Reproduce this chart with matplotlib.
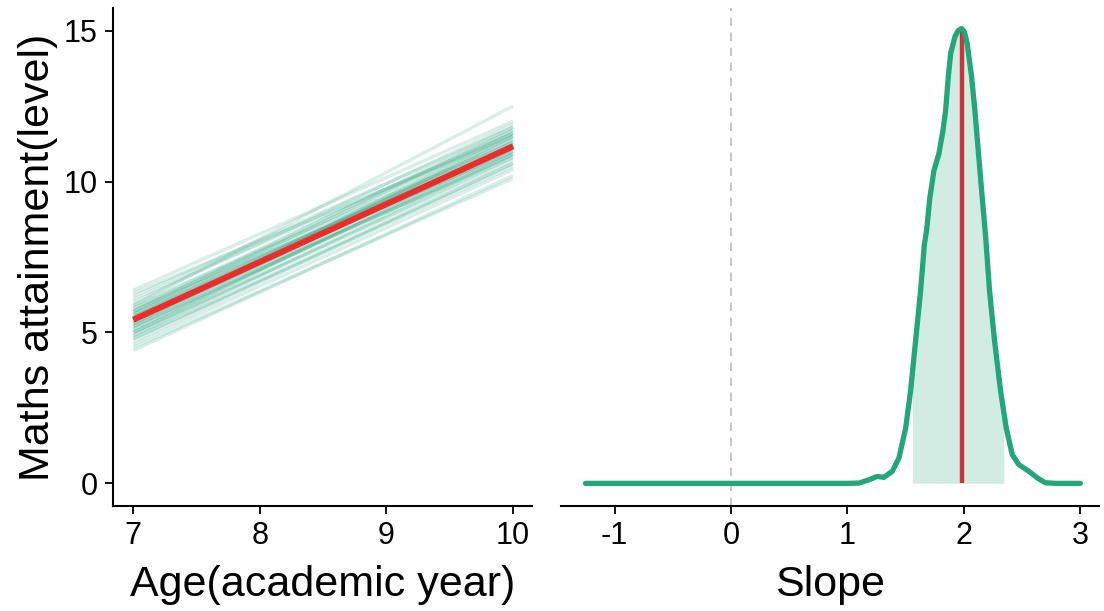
import matplotlib
matplotlib.use("Agg")
import matplotlib.pyplot as plt
import numpy as np

plt.rcParams['font.family'] = ['Liberation Sans', 'DejaVu Sans']

# ---- data: individual growth lines (value at age 7 and at age 10) ----
ages = [7, 10]
line_start = [5.9, 6.4, 6.2, 5.7, 5.5, 5.3, 5.1, 4.9, 4.7, 4.4, 6.0, 5.8, 5.6, 5.4,
              5.2, 5.0, 4.8, 5.5, 5.3, 5.6, 5.1, 4.6, 6.1, 5.7, 5.4, 5.2, 4.9, 5.0,
              5.8, 5.3, 5.5, 4.5, 6.3, 5.9, 5.2, 5.6, 4.8, 5.4, 5.0, 5.7]
line_end = [12.5, 12.0, 11.8, 11.6, 11.4, 11.2, 11.0, 10.8, 10.6, 10.2, 11.9, 11.7,
            11.3, 11.1, 10.9, 10.7, 10.5, 11.5, 11.2, 11.0, 11.3, 10.4, 11.6, 11.8,
            11.4, 10.9, 10.9, 11.1, 11.1, 11.6, 11.0, 10.1, 11.5, 11.3, 11.5, 11.7,
            10.6, 10.8, 11.2, 11.2]
mean_start = 5.42
mean_end = 11.17

# ---- data: slope density (scaled to the attainment axis) ----
slope_x = [-1.25, 1.0, 1.10, 1.185, 1.256, 1.313, 1.385, 1.442, 1.50, 1.542,
           1.585, 1.628, 1.66, 1.68, 1.708, 1.743, 1.785, 1.820, 1.843, 1.866,
           1.886, 1.923, 1.95, 1.98, 2.005, 2.028, 2.066, 2.094, 2.123, 2.152,
           2.186, 2.22, 2.263, 2.315, 2.363, 2.415, 2.472, 2.558, 2.63, 2.70,
           2.787, 3.0]
slope_y = [0.0, 0.0, 0.01, 0.12, 0.23, 0.20, 0.40, 0.84, 1.84, 3.06,
           4.72, 6.38, 7.9, 8.4, 9.48, 10.37, 10.92, 11.69, 12.36, 13.47,
           14.24, 14.8, 15.0, 15.07, 14.95, 14.57, 13.47, 12.36, 11.03, 9.70,
           8.2, 6.38, 4.72, 3.06, 1.84, 0.95, 0.62, 0.40, 0.18, 0.02,
           0.0, 0.0]
interval_lo = 1.557
interval_hi = 2.343
slope_mean = 1.98

x_ticks_left = [7, 8, 9, 10]
y_ticks = [0, 5, 10, 15]
x_ticks_right = [-1, 0, 1, 2, 3]

green = '#1f9e77'
red = '#ee2a2a'

fig = plt.figure(figsize=(11.04, 6.11), dpi=100)
ax1 = fig.add_axes([113/1104, 1-506/611, (532-113)/1104, (506-8)/611])
ax2 = fig.add_axes([561/1104, 1-506/611, (1099-561)/1104, (506-8)/611])

for s, e in zip(line_start, line_end):
    ax1.plot(ages, [s, e], color=green, alpha=0.17, lw=2.4, solid_capstyle='butt')
ax1.plot(ages, [mean_start, mean_end], color=red, lw=4.3, solid_capstyle='butt')

ax1.set_xlim(6.84, 10.15)
ax1.set_ylim(-0.75, 15.75)
ax1.set_xticks(x_ticks_left)
ax1.set_yticks(y_ticks)
ax1.set_xlabel('Age(academic year)', fontsize=31, labelpad=10)
ax1.set_ylabel('Maths attainment(level)', fontsize=31, labelpad=4)
for sp in ['top', 'right']:
    ax1.spines[sp].set_visible(False)

# right panel
ax2.axvline(0, color='#bbbbbb', lw=1.2, ls=(0, (5, 4)), zorder=1)
sx = np.array(slope_x)
sy = np.array(slope_y)
mask = (sx >= interval_lo) & (sx <= interval_hi)
xs_fill = np.concatenate([[interval_lo], sx[mask], [interval_hi]])
ys_fill = np.interp(xs_fill, sx, sy)
ax2.fill_between(xs_fill, 0, ys_fill, color='#d2ece3', lw=0, zorder=2)
ax2.plot([slope_mean, slope_mean], [0, np.interp(slope_mean, sx, sy)],
         color='#c83737', lw=3.2, zorder=3, solid_capstyle='butt')
ax2.plot(sx, sy, color='#22a67a', lw=3.8, zorder=4, solid_capstyle='round',
         solid_joinstyle='round')
ax2.set_xlim(-1.46, 3.16)
ax2.set_ylim(-0.75, 15.75)
ax2.set_xticks(x_ticks_right)
ax2.set_xticklabels(['-1', '0', '1', '2', '3'])
ax2.set_yticks([])
ax2.set_xlabel('Slope', fontsize=31, labelpad=10)
for sp in ['top', 'right', 'left']:
    ax2.spines[sp].set_visible(False)

for ax in (ax1, ax2):
    ax.tick_params(labelsize=22, length=6, width=1.3, colors='black', pad=5)
    for sp in ax.spines.values():
        sp.set_linewidth(1.5)
        sp.set_color('black')

fig.savefig('out.png', dpi=100)
